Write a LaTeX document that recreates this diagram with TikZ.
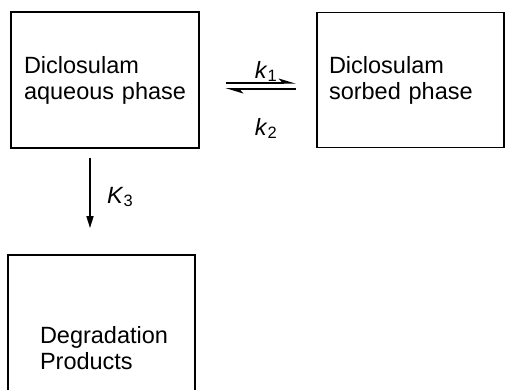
\documentclass[tikz,border=0pt]{standalone}
\usepackage{fontspec}
\setmainfont{Liberation Sans}
\usetikzlibrary{arrows.meta}
\begin{document}
\begin{tikzpicture}[x=1pt,y=-1pt,
  every node/.style={font=\fontsize{23.5}{26}\selectfont},
  boxnode/.style={draw, line width=1.8pt, rectangle, align=left, inner ysep=0pt},
  flow/.style={line width=1.6pt, -{Triangle[length=12pt,width=7pt]}},
  eq/.style={line width=1.5pt, -{Stealth[harpoon,length=15pt,width=9pt,inset=4pt]}}
]
\clip (0,0) rectangle (505,390);
\useasboundingbox (0,0) rectangle (505,390);
\node[boxnode, minimum width=188pt, minimum height=136pt, text width=162pt, inner xsep=13pt] (b1) at (105,80) {\mbox{Diclosulam}\\\mbox{aqueous phase}};
\node[boxnode, minimum width=187pt, minimum height=135pt, text width=163pt, inner xsep=12pt] (b2) at (410.5,80) {\mbox{Diclosulam}\\\mbox{sorbed phase}};
\node[boxnode, minimum width=187pt, minimum height=186pt, text width=123pt, inner xsep=32pt] (b3) at (101.5,348) {\mbox{Degradation}\\\mbox{Products}};
\draw[eq] ([xshift=26pt,yshift=-3pt]b1.east) -- node[above=-3pt, xshift=5pt] (k1) {\textit{k}\textsubscript{1}} ([xshift=-20pt,yshift=-3pt]b2.west);
\draw[eq] ([xshift=-20pt,yshift=-9pt]b2.west) -- node[below=25pt, xshift=5pt] (k2) {\textit{k}\textsubscript{2}} ([xshift=26pt,yshift=-9pt]b1.east);
\draw[flow] ([xshift=-15pt,yshift=-9pt]b1.south) -- node[right=13pt, yshift=-4pt] (k3) {\textit{K}\textsubscript{3}} ([xshift=-11.5pt,yshift=26pt]b3.north);
\end{tikzpicture}
\end{document}
